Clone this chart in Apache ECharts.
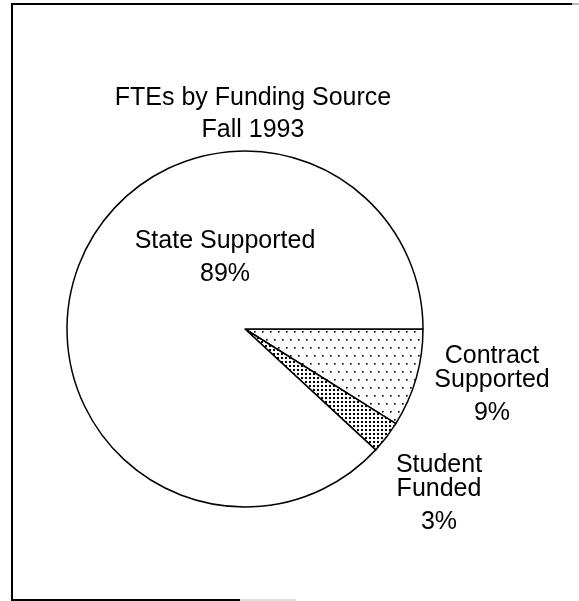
<!DOCTYPE html>
<html>
<head>
<meta charset="utf-8">
<script src="https://cdn.jsdelivr.net/npm/echarts@6/dist/echarts.min.js"></script>
<style>
html, body { margin: 0; padding: 0; background: #fff; }
#main { width: 579px; height: 601px; }
</style>
</head>
<body>
<div id="main"></div>
<script>
// data
var titleLines = ['FTEs by Funding Source', 'Fall 1993'];
var categories = ['Contract\nSupported', 'Student\nFunded', 'State Supported'];
var shares = [9, 3, 89];

// label spots, same order as categories
var labelSpots = [[492, 389], [439, 498], [225, 262]];

function dotPattern(w, h, dots, size) {
	var c = document.createElement('canvas');
	c.width = w;
	c.height = h;
	var ctx = c.getContext('2d');
	ctx.fillStyle = '#fff';
	ctx.fillRect(0, 0, w, h);
	ctx.fillStyle = '#000';
	dots.forEach(function(d) {
		ctx.fillRect(d[0], d[1], size, size);
	});
	return { image: c, repeat: 'repeat' };
}

var fills = [
	dotPattern(8, 16, [[2, 3], [6, 11]], 1.6), // sparse dots
	dotPattern(4, 4, [[1, 1]], 2), // dense dots
	'#fff'
];

var font = '"Liberation Sans", Arial, sans-serif';
var fsize = 25;

var pieData = categories.map(function(name, i) {
	return {
		name: name,
		value: shares[i],
		itemStyle: { color: fills[i] }
	};
});

var myChart = echarts.init(document.getElementById('main'));
var option = {
	animation: false,
	backgroundColor: '#fff',
	graphic: [
		{ type: 'line', shape: { x1: 12, y1: 4, x2: 12, y2: 600 }, style: { stroke: '#000', lineWidth: 2 } },
		{ type: 'line', shape: { x1: 11, y1: 4, x2: 572, y2: 4 }, style: { stroke: '#000', lineWidth: 2 } },
		{ type: 'line', shape: { x1: 572, y1: 4, x2: 579, y2: 4 }, style: { stroke: '#bbb', lineWidth: 2 } },
		{ type: 'line', shape: { x1: 11, y1: 600, x2: 240, y2: 600 }, style: { stroke: '#000', lineWidth: 2 } },
		{ type: 'line', shape: { x1: 240, y1: 600, x2: 296, y2: 600 }, style: { stroke: '#ddd', lineWidth: 2 } },
		{
			type: 'text',
			style: {
				text: titleLines.join('\n'),
				x: 253,
				y: 114,
				align: 'center',
				verticalAlign: 'middle',
				font: fsize + 'px ' + font,
				lineHeight: 32,
				fill: '#000'
			}
		}
	],
	series: [{
		type: 'pie',
		center: [245, 329],
		radius: 178,
		startAngle: 0,
		clockwise: true,
		silent: true,
		data: pieData,
		itemStyle: { borderColor: '#000', borderWidth: 1.5 },
		labelLine: { show: false },
		label: {
			show: true,
			position: 'inside',
			overflow: 'none',
			color: '#000',
			fontFamily: font,
			fontSize: fsize,
			align: 'center',
			formatter: function(p) {
				var lines = p.name.split('\n').map(function(s) { return '{n|' + s + '}'; });
				lines.push('{p|' + p.value + '%}');
				return lines.join('\n');
			},
			rich: {
				n: { fontSize: fsize, fontFamily: font, color: '#000', lineHeight: 24, align: 'center' },
				p: { fontSize: fsize, fontFamily: font, color: '#000', lineHeight: 42, align: 'center' }
			}
		},
		labelLayout: function(params) {
			var s = labelSpots[params.dataIndex];
			return { x: s[0], y: s[1], align: 'center', verticalAlign: 'middle' };
		}
	}]
};
myChart.setOption(option);
</script>
</body>
</html>
